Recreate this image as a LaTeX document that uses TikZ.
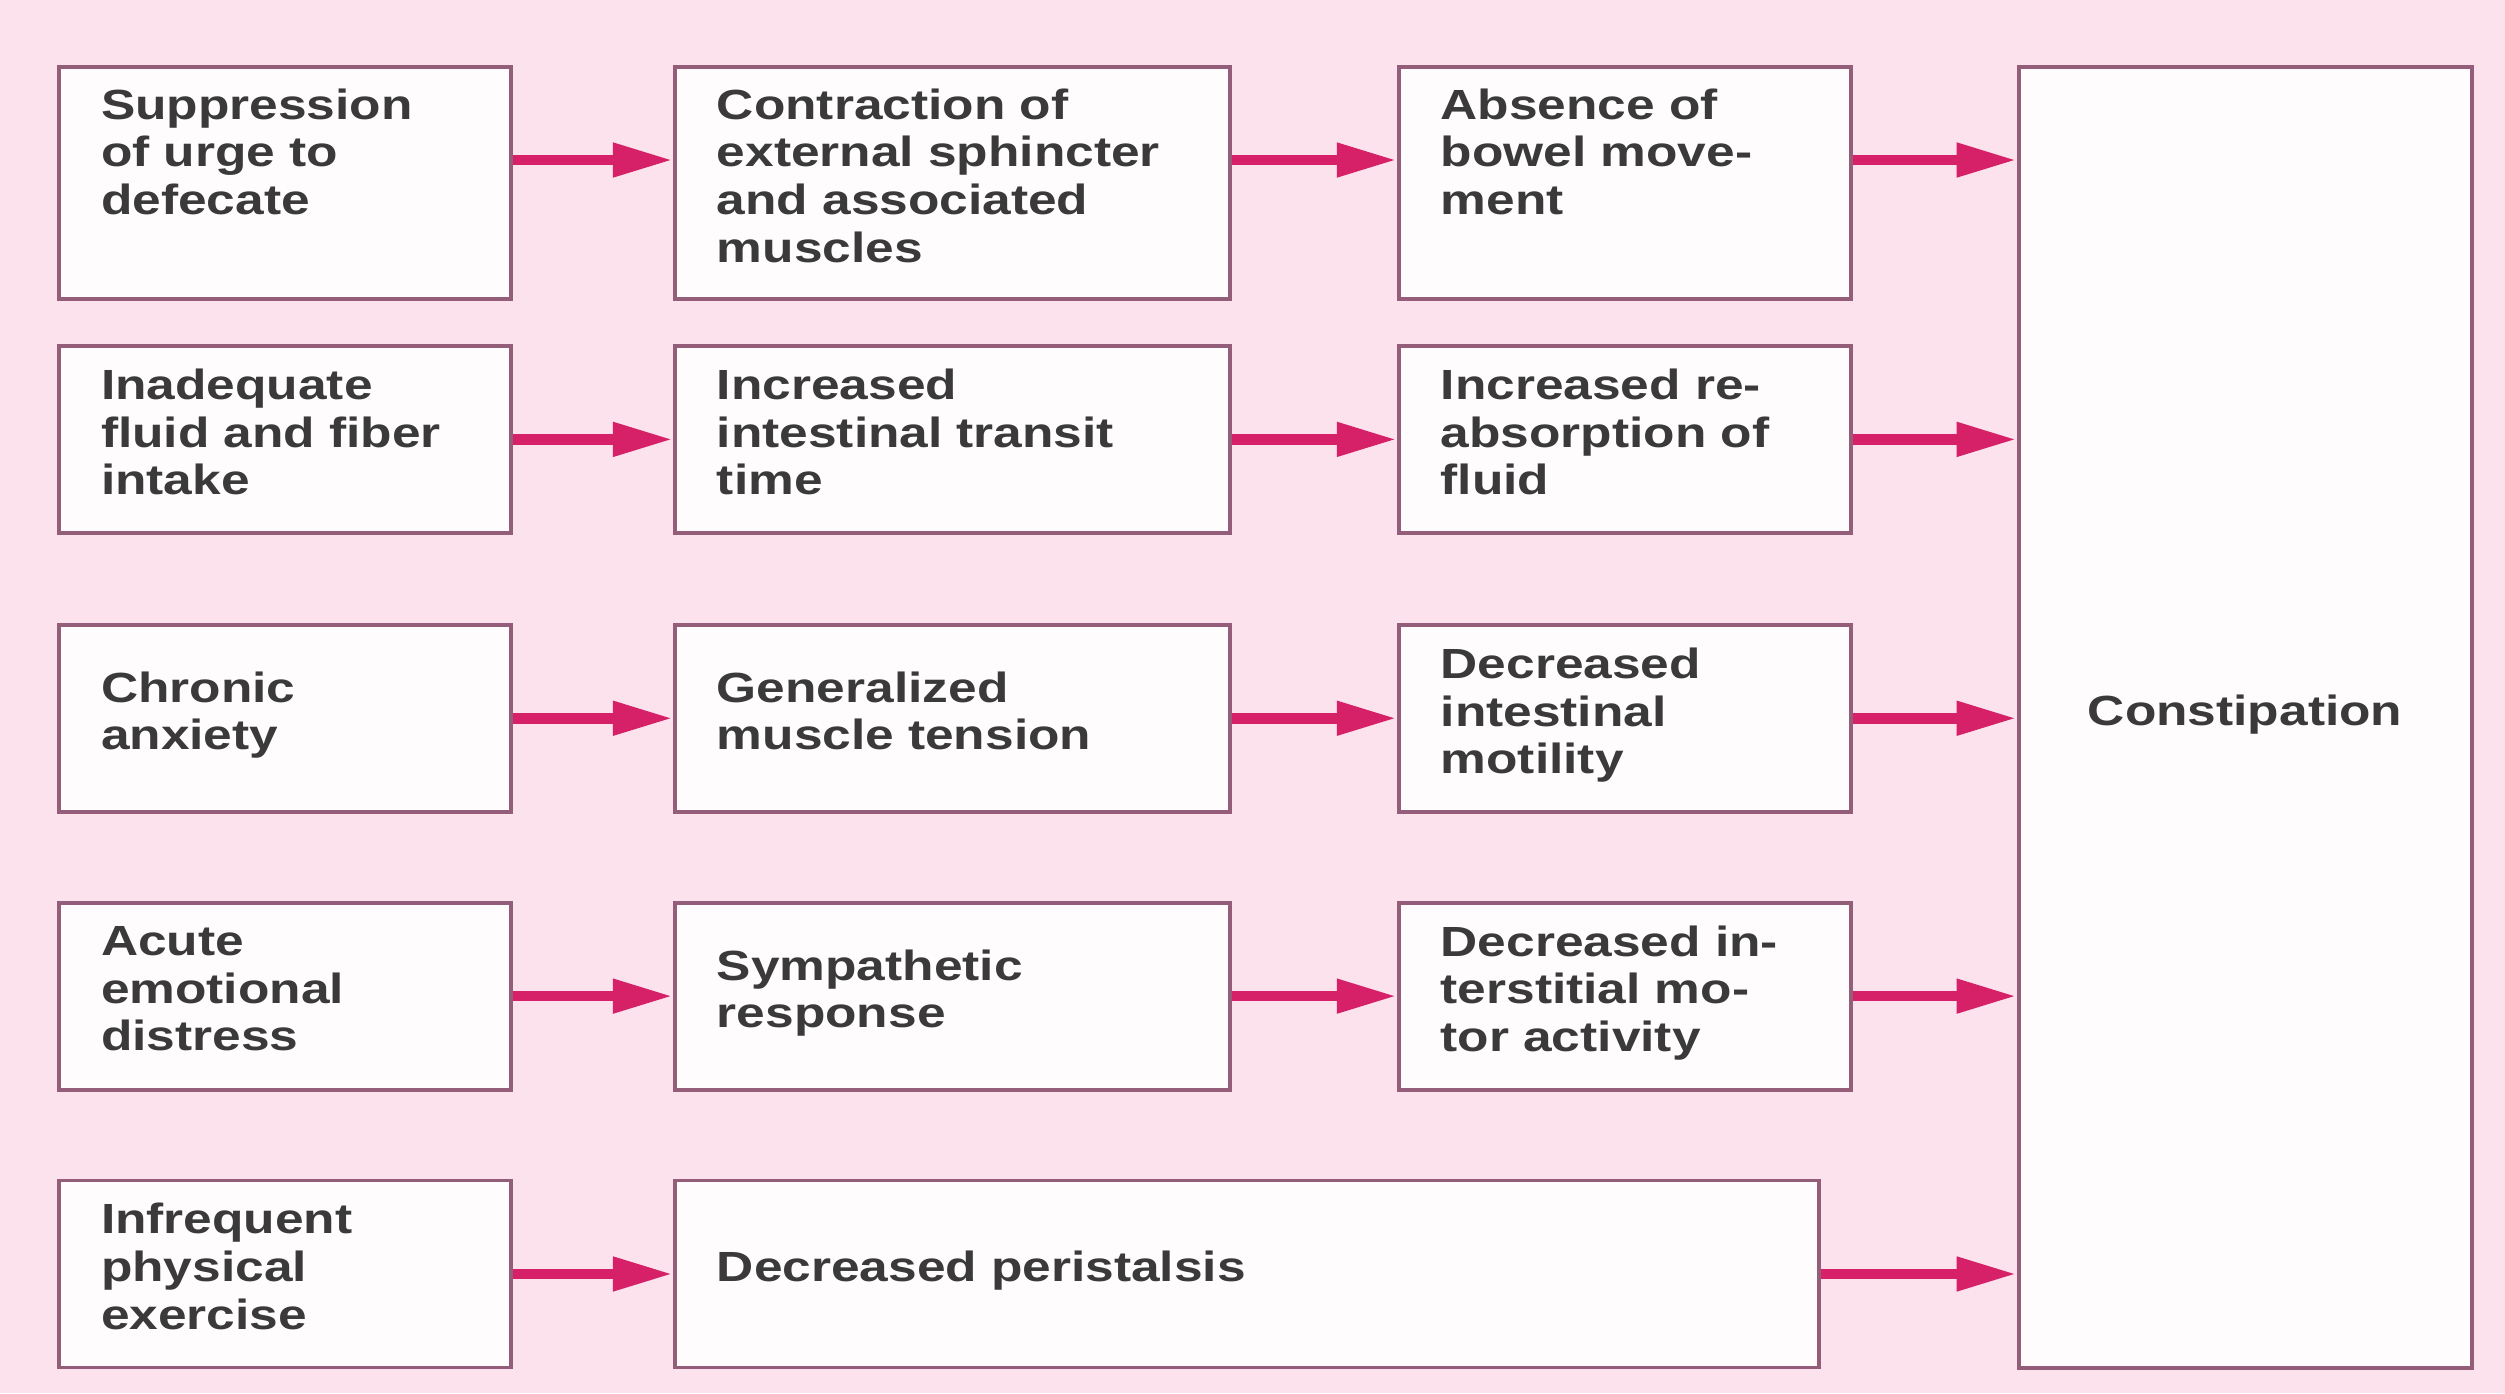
\documentclass[tikz,border=0pt]{standalone}
\usepackage{fontspec}
\newfontfamily\boxfont[FakeStretch=1.22]{Liberation Sans}
\usepackage{tikz}
\usetikzlibrary{arrows.meta,          % pointes de fleches
           calc,
           positioning}
\definecolor{fond}{RGB}{251,226,237}
\definecolor{cadre}{RGB}{148,94,122}
\definecolor{blanc}{RGB}{255,252,254}
\definecolor{rose}{RGB}{214,32,104}
\definecolor{texte}{RGB}{58,58,58}

\begin{document}
\begin{tikzpicture}[
  boite/.style={draw=cadre, line width=1.1pt, fill=blanc, align=left, inner xsep=0.42cm, inner ysep=0pt,
                text=texte, font=\boxfont\bfseries\fontsize{12}{13.6}\selectfont,
                execute at end node={\rule[-0.15cm]{0pt}{0pt}}},
  etroite/.style={boite, text width=3.68cm, minimum height=1.87cm},
  large/.style={boite, text width=4.71cm, minimum height=1.87cm},
  haute/.style={minimum height=2.32cm},
  fleche/.style={-{Triangle[length=0.6cm,width=0.32cm]}, line width=3pt, draw=rose}]
\useasboundingbox(0,0) rectangle (25.05,-13.93);
\fill[fond](0,0) rectangle (25.05,-13.93);
% premiere ligne
\node[etroite, haute](A)at(2.85,-1.83){Suppression\\of urge to\\defecate\\\mbox{}};
\node[large, haute, right=1.60cm of A](B){Contraction of\\external sphincter\\and associated\\muscles};
\node[etroite, haute, right=1.65cm of B](C){Absence of\\bowel move-\\ment\\\mbox{}};
% lignes suivantes
\node[etroite, below=0.43cm of A](D){Inadequate\\fluid and fiber\\intake};
\node[large, right=1.60cm of D](E){Increased\\intestinal transit\\time};
\node[etroite, right=1.65cm of E](F){Increased re-\\absorption of\\fluid};
\node[etroite, below=0.88cm of D](G){Chronic\\anxiety};
\node[large, right=1.60cm of G](H){Generalized\\muscle tension};
\node[etroite, right=1.65cm of H](I){Decreased\\intestinal\\motility};
\node[etroite, below=0.87cm of G](J){Acute\\emotional\\distress};
\node[large, right=1.60cm of J](K){Sympathetic\\response};
\node[etroite, right=1.65cm of K](L){Decreased in-\\terstitial mo-\\tor activity};
\node[etroite, below=0.87cm of J](M){Infrequent\\physical\\exercise};
\node[boite, text width=10.6cm, minimum height=1.87cm, right=1.60cm of M](N){Decreased peristalsis};
\node[boite, align=center, minimum width=4.53cm, minimum height=13.01cm, anchor=north west]
  (Z)at([xshift=1.64cm]C.north east){Constipation};
% fleches
\draw[fleche]([yshift=0.23cm]A.east)--([yshift=0.23cm]B.west);
\draw[fleche]([yshift=0.23cm]B.east)--([yshift=0.23cm]C.west);
\draw[fleche]([yshift=0.23cm]C.east)--([yshift=0.23cm]C.east -| Z.west);
\draw[fleche](D)--(E);
\draw[fleche](E)--(F);
\draw[fleche](F.east)--(F.east -| Z.west);
\draw[fleche](G)--(H);
\draw[fleche](H)--(I);
\draw[fleche](I.east)--(I.east -| Z.west);
\draw[fleche](J)--(K);
\draw[fleche](K)--(L);
\draw[fleche](L.east)--(L.east -| Z.west);
\draw[fleche](M)--(N);
\draw[fleche](N.east)--(N.east -| Z.west);
\end{tikzpicture}
\end{document}
